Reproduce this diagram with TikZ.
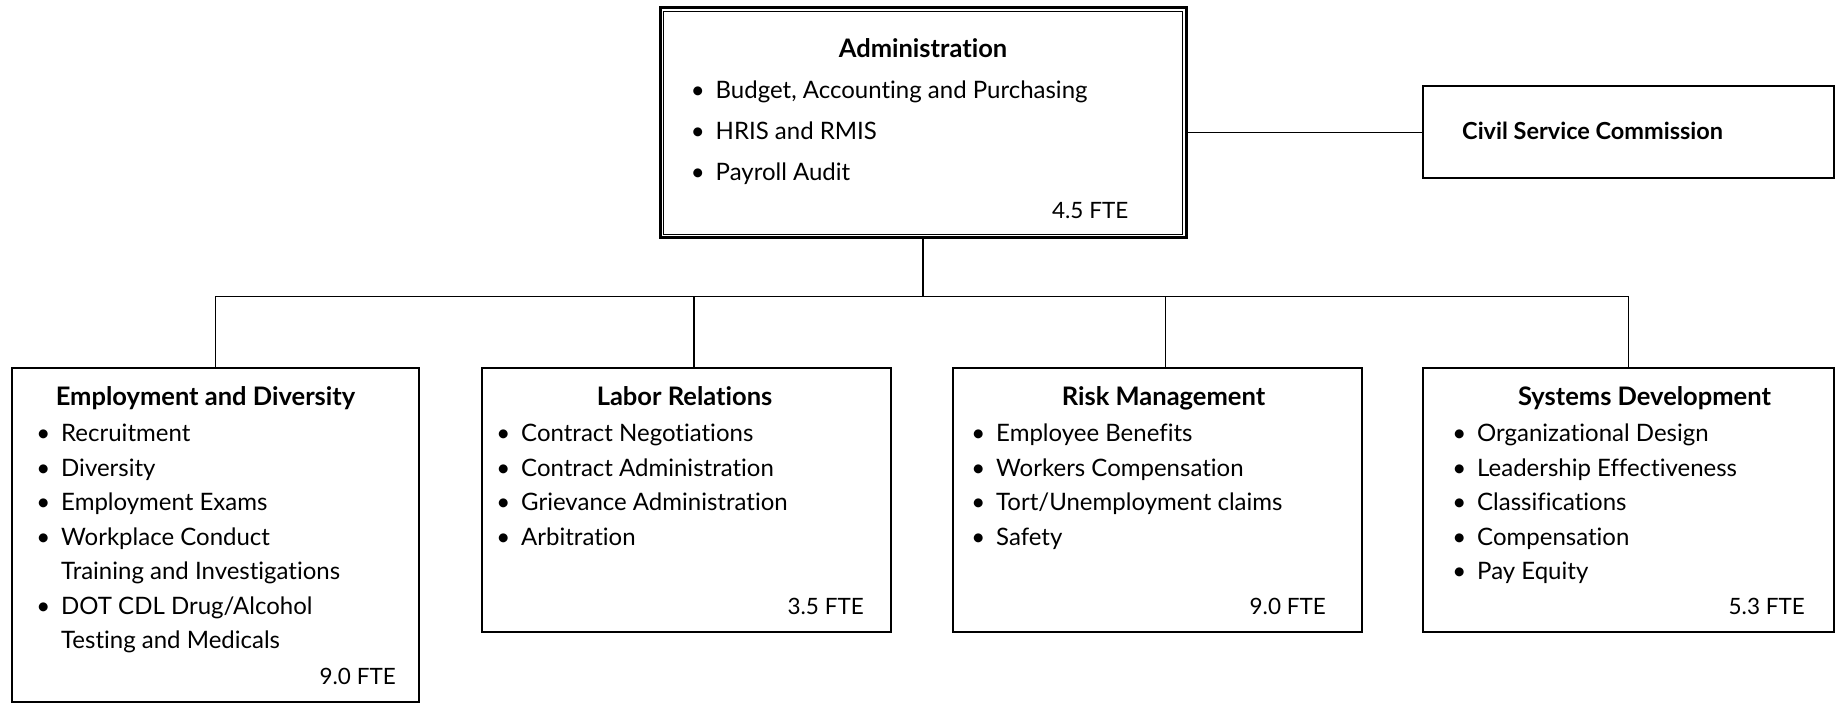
\documentclass[tikz,border=0pt]{standalone}
\usepackage{fontspec}
\setmainfont{Lato}[Ligatures=NoCommon]
\usetikzlibrary{positioning,calc}
\newcommand{\chartfont}{\fontsize{24}{29}\selectfont}
\newcommand{\headfont}{\fontsize{25.5}{30}\selectfont\bfseries}
\newcommand{\bul}{\llap{\textbullet\hspace{11pt}}}

\begin{document}
\begin{tikzpicture}[x=1pt,y=-1pt,
    unitbox/.style={draw, line width=2pt, inner sep=0pt},
    title/.style={anchor=base, font=\headfont, inner sep=0pt},
    entry/.style={anchor=base west, font=\chartfont, inner sep=0pt},
    fte/.style={anchor=base east, font=\fontsize{22.5}{27}\selectfont, inner sep=0pt},
    link/.style={line width=1.6pt}]
  \useasboundingbox (0,0) rectangle (1837,703);

  % boxes
  \node[unitbox, line width=3pt, minimum width=526pt, minimum height=230pt] (admin) at (923,123) {};
  \draw[line width=1pt] ($(admin.north west)+(5,5)$) rectangle ($(admin.south east)+(-5,-5)$);
  \node[unitbox, minimum width=411pt, minimum height=92pt] (csc) at (1628.5,132.5) {};
  \node[unitbox, minimum width=407pt, minimum height=334pt] (emp) at (215.5,534.5) {};
  \node[unitbox, minimum width=409pt, minimum height=264pt] (lab) at (686.5,499.5) {};
  \node[unitbox, minimum width=409pt, minimum height=264pt] (risk) at (1157.5,499.5) {};
  \node[unitbox, minimum width=411pt, minimum height=264pt] (sys) at (1628.5,499.5) {};

  % administration
  \node[title] (admin-t) at ($(admin.north)+(0,51)$) {Administration};
  \foreach \txt [count=\i] in {{Budget, Accounting and Purchasing}, HRIS and RMIS, Payroll Audit}
    \node[entry] (admin-\i) at ($(admin.north west)+(57,51+41*\i)$) {\bul\txt};
  \node[fte] (admin-f) at ($(admin.south east)+(-59,-21)$) {4.5 FTE};

  \node[entry, font=\fontsize{23.5}{28}\selectfont\bfseries] (csc-t) at ($(csc.west)+(40,7)$) {Civil Service Commission};

  % units
  \node[title] (emp-t) at ($(emp.north)+(-10,39)$) {Employment and Diversity};
  \foreach \pre/\txt [count=\i] in {\bul/Recruitment, \bul/Diversity, \bul/Employment Exams,
      \bul/Workplace Conduct, /Training and Investigations, \bul/{DOT CDL Drug/Alcohol},
      /Testing and Medicals}
    \node[entry] (emp-\i) at ($(emp.north west)+(50,40.5+34.5*\i)$) {\pre\txt};
  \node[fte] (emp-f) at ($(emp.south east)+(-24,-18)$) {9.0 FTE};

  \node[title] (lab-t) at ($(lab.north)+(-2,39)$) {Labor Relations};
  \foreach \txt [count=\i] in {Contract Negotiations, Contract Administration,
      Grievance Administration, Arbitration}
    \node[entry] (lab-\i) at ($(lab.north west)+(40,40.5+34.5*\i)$) {\bul\txt};
  \node[fte] (lab-f) at ($(lab.south east)+(-28,-18)$) {3.5 FTE};

  \node[title] (risk-t) at ($(risk.north)+(6,39)$) {Risk Management};
  \foreach \txt [count=\i] in {Employee Benefits, Workers Compensation,
      Tort/Unemployment claims, Safety}
    \node[entry] (risk-\i) at ($(risk.north west)+(44,40.5+34.5*\i)$) {\bul\txt};
  \node[fte] (risk-f) at ($(risk.south east)+(-37,-18)$) {9.0 FTE};

  \node[title] (sys-t) at ($(sys.north)+(16,39)$) {Systems Development};
  \foreach \txt [count=\i] in {Organizational Design, Leadership Effectiveness,
      Classifications, Compensation, Pay Equity}
    \node[entry] (sys-\i) at ($(sys.north west)+(55,40.5+34.5*\i)$) {\bul\txt};
  \node[fte] (sys-f) at ($(sys.south east)+(-30,-18)$) {5.3 FTE};

  % lines
  \draw[link] (csc.west) -- (csc.west -| admin.east);
  \draw[link] (admin.south) -- ++(0,57) coordinate (hub);
  \draw[link] (emp.north) |- (hub) -| (sys.north);
  \coordinate (lab-in) at ($(lab.north)+(7.5,0)$);
  \coordinate (risk-in) at ($(risk.north)+(8,0)$);
  \draw[link] (lab-in) -- (lab-in |- hub);
  \draw[link] (risk-in) -- (risk-in |- hub);
\end{tikzpicture}
\end{document}
